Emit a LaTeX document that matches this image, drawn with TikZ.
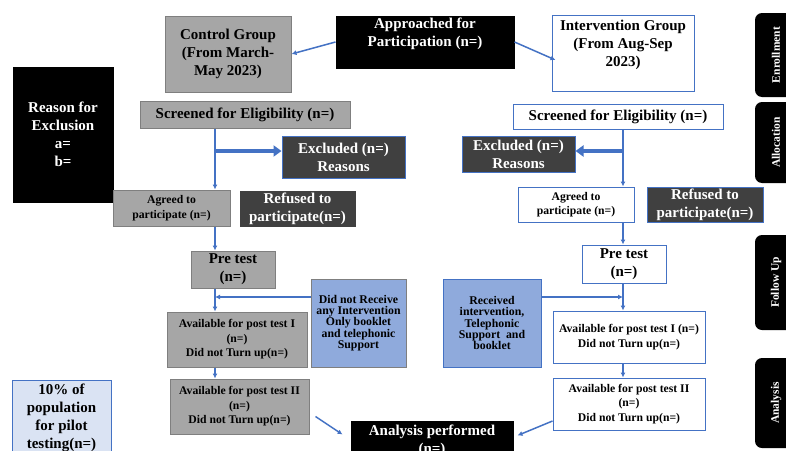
\documentclass[tikz,border=0pt]{standalone}
\usepackage{fontspec}
\setmainfont{Liberation Serif}
\usetikzlibrary{arrows.meta,calc}
\definecolor{lineblue}{HTML}{4472C4}
\definecolor{boxgray}{HTML}{A6A6A6}
\definecolor{edgegray}{HTML}{7F7F7F}
\definecolor{darkfill}{HTML}{404040}
\definecolor{midblue}{HTML}{8FAADC}
\definecolor{paleblue}{HTML}{DAE3F3}
\tikzset{
  base/.style={rectangle, align=center, inner sep=1pt, line width=1pt,
    font=\bfseries\fontsize{15}{18}\selectfont},
  smalltext/.style={font=\bfseries\fontsize{11.7}{14.5}\selectfont},
  tighttext/.style={font=\bfseries\fontsize{11.8}{11.3}\selectfont},
  sz/.style n args={2}{minimum width=#1pt, minimum height=#2pt},
  graybox/.style={base, fill=boxgray, draw=edgegray},
  whitebox/.style={base, fill=white, draw=lineblue},
  blackbox/.style={base, fill=black, draw=black, text=white},
  dkbox/.style={base, fill=darkfill, draw=lineblue, text=white},
  plaintext/.style={base, inner sep=0pt},
  conn/.style={draw=lineblue, line width=1.5pt, -{Latex[length=5pt,width=5pt]}},
  fat/.style={draw=lineblue, line width=4pt, -{Triangle[length=8pt,width=11pt]}},
  tabbox/.style={fill=black, rounded corners=7pt, text=white, rotate=90,
    inner sep=0pt, font=\bfseries\fontsize{11.5}{12}\selectfont}
}
\begin{document}
\begin{tikzpicture}[x=1pt,y=-1pt]
\clip (0,0) rectangle (786,450);
\fill[white] (0,0) rectangle (786,450);

% top row
\node[graybox, sz={126}{76}] (ctrl) at (228,54) {Control Group\\(From March-\\May 2023)};
\node[blackbox, sz={178}{52}] (ap) at (425,42) {};
\node[plaintext, text=white] (apt) at (425,34) {Approached for\\Participation (n=)};
\node[whitebox, sz={142}{76}] (int) at (623,53) {};
\node[plaintext] (intt) at (623,45) {Intervention Group\\(From Aug-Sep\\2023)};

\node[blackbox, sz={100}{135}] (reason) at (63,134.5) {Reason for\\Exclusion\\a=\\b=};

% screened
\node[graybox, sz={210}{27}] (sl) at (245,114.5) {Screened for Eligibility (n=)};
\node[whitebox, sz={210}{25}] (sr) at (618,116.5) {Screened for Eligibility (n=)};

% excluded
\node[dkbox, sz={123}{42}] (exl) at (343.5,157) {Excluded (n=)\\Reasons};
\node[dkbox, sz={113}{36}] (exr) at (518.5,154) {Excluded (n=)\\Reasons};

% agreed / refused
\node[graybox, smalltext, sz={117}{36}] (al) at (171.5,208) {Agreed to\\participate (n=)};
\node[dkbox, draw=darkfill, sz={115}{35}] (rl) at (297.5,208.5) {Refused to\\participate(n=)};
\node[whitebox, smalltext, sz={116}{35}] (ar) at (576,204.5) {Agreed to\\participate (n=)};
\node[dkbox, sz={116}{35}] (rr) at (705,204.5) {Refused to\\participate(n=)};

% pre test
\node[graybox, sz={84}{37}] (pl) at (233,269.5) {Pre test\\(n=)};
\node[whitebox, sz={84}{38}] (pr) at (624,264) {Pre test\\(n=)};

% intervention info
\node[base, tighttext, fill=midblue, draw=edgegray, sz={95}{88}] (dnr) at (358.5,323)
  {Did not Receive\\any Intervention\\Only booklet\\and telephonic\\Support};
\node[base, tighttext, fill=midblue, draw=lineblue, sz={98}{88}] (rcv) at (492,323)
  {Received\\intervention,\\Telephonic\\Support~ and\\booklet};

% post tests
\node[graybox, smalltext, sz={140}{55}] (p1l) at (237,339.5) {Available for post test I\\(n=)\\Did not Turn up(n=)};
\node[graybox, smalltext, sz={139}{55}] (p2l) at (239.5,406.5) {Available for post test II\\(n=)\\Did not Turn up(n=)};
\node[whitebox, smalltext, sz={152}{52}] (p1r) at (629,337) {Available for post test I (n=)\\Did not Turn up(n=)};
\node[whitebox, smalltext, sz={152}{52}] (p2r) at (629,404) {Available for post test II\\(n=)\\Did not Turn up(n=)};

% analysis
\node[blackbox, sz={162}{48}] (an) at (432,445) {};
\node[plaintext, text=white] (ant) at (432,441) {Analysis performed\\(n=)};

% pilot
\node[base, fill=paleblue, draw=lineblue, sz={99}{76}] (pilot) at (61.5,418) {10\% of\\population\\for pilot\\testing(n=)};

% side tabs
\node[tabbox, minimum width=84pt, minimum height=42pt] (t1) at (776,55) {Enrollment};
\node[tabbox, minimum width=81pt, minimum height=42pt] (t2) at (776,142.5) {Allocation};
\node[tabbox, minimum width=95pt, minimum height=42pt] (t3) at (776,282.5) {Follow Up};
\node[tabbox, minimum width=90pt, minimum height=42pt] (t4) at (776,403) {Analysis};

% connectors
\coordinate (lx) at (215,0);
\coordinate (rx) at (623,0);
\coordinate (jl) at (215,151);
\coordinate (jr) at (623,151);
\coordinate (dl) at (215,297);
\coordinate (dr) at (623,297);

\draw[conn] (ap.west) -- (ctrl.east);
\draw[conn] (ap.east) -- ($(int.west)+(4,7)$);

\draw[conn] (sl.south -| lx) -- (al.north -| lx);
\draw[fat] (jl) -- (exl.west |- jl);
\draw[conn] (al.south -| lx) -- (pl.north -| lx);
\draw[conn] (pl.south -| lx) -- (p1l.north -| lx);
\draw[conn] (dnr.west |- dl) -- (dl);
\draw[conn] (p1l.south -| lx) -- (p2l.north -| lx);
\draw[conn] ($(p2l.east)+(6,10)$) -- ($(an.north west)+(-8,14)$);

\draw[conn] (sr.south -| rx) -- (ar.north -| rx);
\draw[fat] (jr) -- (exr.east |- jr);
\draw[conn] (ar.south -| rx) -- (pr.north -| rx);
\draw[conn] (pr.south -| rx) -- (p1r.north -| rx);
\draw[conn] (rcv.east |- dr) -- (dr);
\draw[conn] (p1r.south -| rx) -- (p2r.north -| rx);
\draw[conn] ($(p2r.west)+(0,17)$) -- ($(an.north east)+(4,15)$);
\end{tikzpicture}
\end{document}
